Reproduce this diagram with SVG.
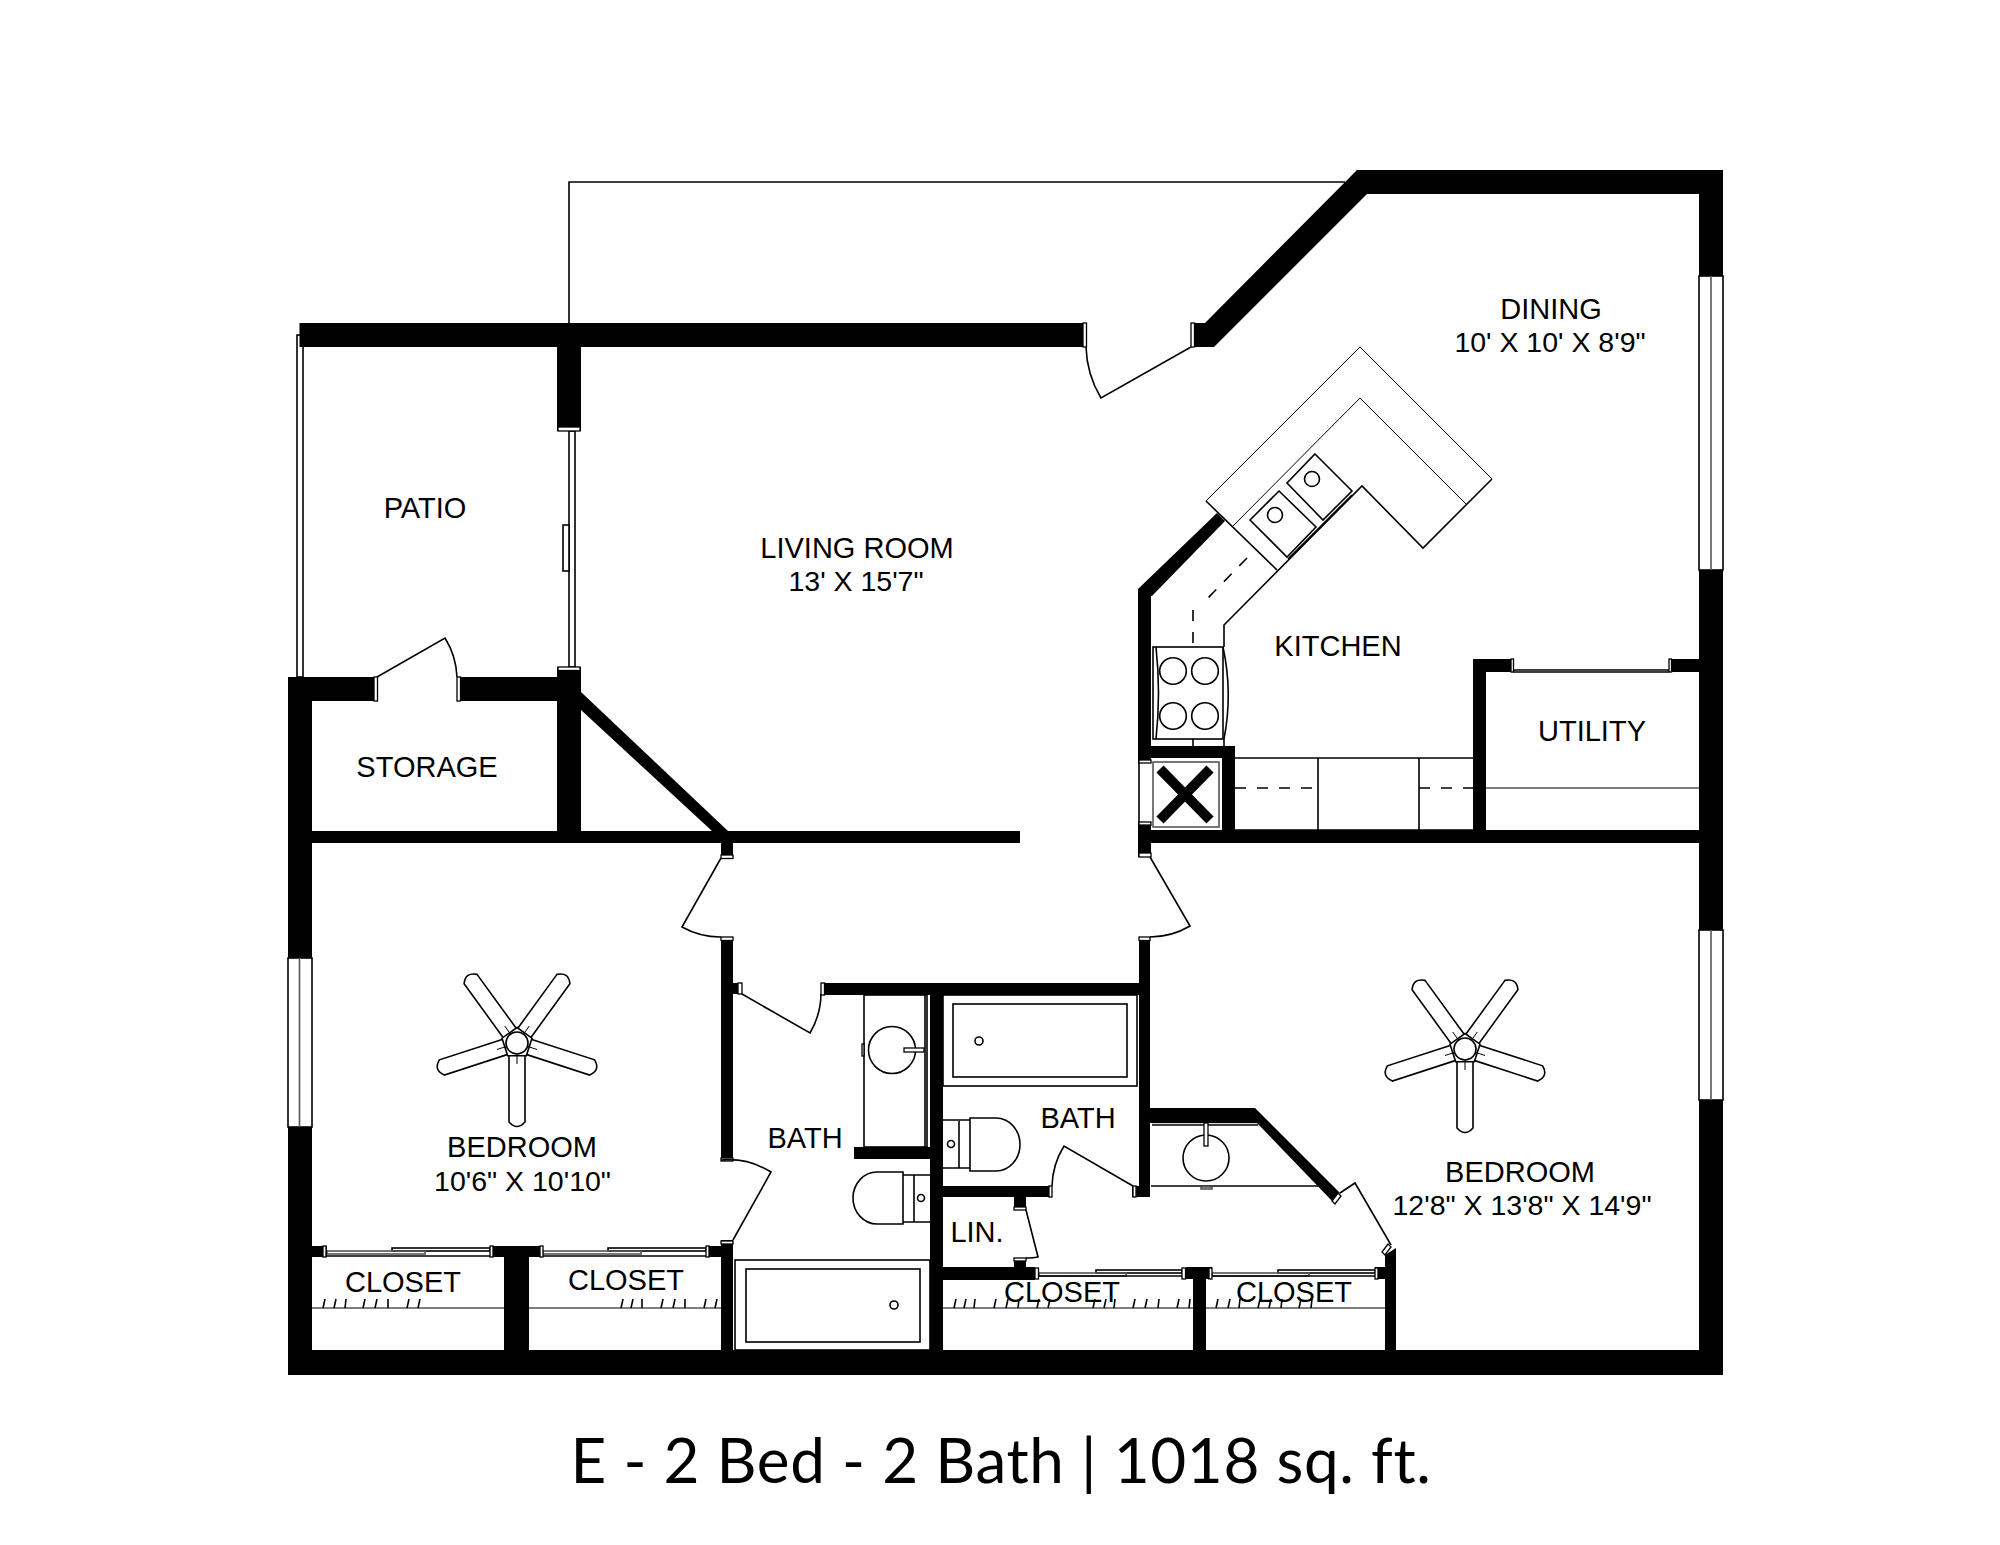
<svg xmlns="http://www.w3.org/2000/svg" width="2000" height="1545" viewBox="0 0 2000 1545">
<style>
.w{fill:#000}
.l{fill:none;stroke:#000;stroke-width:1.6}
.t{fill:none;stroke:#000;stroke-width:1}
.g{fill:none;stroke:#555;stroke-width:1.6}
.j{fill:#fff;stroke:#000;stroke-width:1.3}
.f{fill:#fff;stroke:#000;stroke-width:1.6}
.d{fill:none;stroke:#000;stroke-width:1.6;stroke-dasharray:11 11}
.x{fill:none;stroke:#000;stroke-width:10}
text{font-family:"Liberation Sans",Arial,sans-serif;font-size:29px;fill:#000;text-anchor:middle}
text.dim{font-size:28.5px}
text.cap{font-family:"Lato",sans-serif;font-size:62px;letter-spacing:.62px}
</style>
<defs>
<path id="blade" class="l" d="M-8,13V79Q-4,83.500 0,83.500Q4,83.500 8,79V13"/>
<g id="fan">
<use href="#blade"/><use href="#blade" transform="rotate(72)"/><use href="#blade" transform="rotate(144)"/><use href="#blade" transform="rotate(216)"/><use href="#blade" transform="rotate(288)"/>
<polygon class="f" points="0,-15.500 15,-4.800 9.300,12.800 -9.300,12.800 -15,-4.800"/>
<path class="t" d="M0,11V21M-10.500,3.400L-20,6.500M-6.500,-8.900L-12.300,-17M6.500,-8.900L12.300,-17M10.500,3.400L20,6.500"/>
<circle class="f" r="11" stroke-width="1.200"/>
</g>
</defs>
<rect width="2000" height="1545" fill="#fff"/>

<g id="fixtures">
<path class="l" d="M569,323V182H1345"/>
<rect class="f" x="297" y="335" width="6" height="342"/>
<rect class="f" x="569" y="431" width="6" height="236"/>
<rect class="f" x="563" y="525" width="6" height="46"/>
<rect class="f" x="1699" y="276" width="24" height="294"/><path class="g" d="M1711,276V570"/>
<rect class="f" x="1699" y="930" width="24" height="170"/><path class="g" d="M1711,930V1100"/>
<rect class="f" x="288" y="958" width="24" height="169"/><path class="g" d="M299.500,958V1127"/>

<path class="t" d="M1206,501L1360,347L1492,479"/>
<path class="t" d="M1233,526L1360,398L1466,504"/>
<path class="l" d="M1492,479L1423,548L1362,486L1224,625V647M1206,501L1277,570M1288,559L1352,495"/>
<polygon class="l" points="1279,491 1316,527 1287,557 1250,520"/>
<polygon class="l" points="1315,454 1352,491 1323,520 1287,483"/>
<circle class="l" cx="1275" cy="515" r="7.500"/><circle class="l" cx="1312" cy="479" r="7.500"/>
<path class="d" d="M1247,558L1205,601M1193,610V647"/>
<path class="l" d="M1193,739V746M1224,739V746"/>

<rect class="l" x="1153" y="647" width="70" height="92" stroke-width="2.500"/>
<path class="l" d="M1156,647Q1161,693 1156,739"/>
<path class="l" d="M1223,647Q1233,693 1224,739"/>
<circle class="l" cx="1173" cy="671" r="13.300"/><circle class="l" cx="1205" cy="671" r="13.300"/><circle class="l" cx="1173" cy="716" r="13.300"/><circle class="l" cx="1205" cy="716" r="13.300"/>
<rect class="g" x="1153" y="762" width="66" height="65"/>
<path class="x" d="M1160,769L1210,820M1210,769L1160,820"/>
<path class="l" d="M1139,762V823"/>

<path class="l" d="M1235,758H1473M1235,830H1473M1318,758V830M1419,758V830"/>
<path class="d" d="M1235,788H1318M1419,788H1473"/>
<path class="g" d="M1486,788H1699"/>
<path class="l" d="M1513,670H1669M1513,672H1669"/>

<rect class="l" x="864" y="995" width="63" height="152"/>
<path class="l" d="M925,995V1147"/>
<circle class="l" cx="892" cy="1050" r="23.500"/>
<rect class="j" x="904" y="1048" width="20" height="4"/>
<rect class="j" x="862" y="1044" width="2" height="12"/>
<rect class="l" x="943" y="995" width="194" height="91"/>
<rect class="l" x="953" y="1004" width="174" height="73" stroke-width="2"/>
<circle class="l" cx="979" cy="1041" r="4"/>
<path class="l" d="M970,1120H943M943,1168H970M959,1121V1168"/>
<path class="l" d="M970,1118H996A24,26.500 0 0 1 996,1171H970Z"/>
<circle class="l" cx="951" cy="1144" r="3.500"/>
<path class="l" d="M930,1175H903M930,1222H903M914,1175V1222"/>
<path class="l" d="M903,1172H877A24,26 0 0 0 877,1224H903Z"/>
<circle class="l" cx="921" cy="1198" r="3.500"/>
<rect class="l" x="735" y="1260" width="195" height="90"/>
<rect class="l" x="746" y="1269" width="174" height="73" stroke-width="2"/>
<circle class="l" cx="894" cy="1305" r="4"/>
<path class="l" d="M1152,1125H1258"/><path class="g" d="M1152,1122.500H1258"/>
<path class="l" d="M1151,1186H1318"/>
<circle class="l" cx="1206" cy="1158" r="23"/>
<rect class="j" x="1204" y="1123" width="4" height="23"/>
<rect class="g" x="1201" y="1187" width="11" height="2"/>

<path class="g" d="M312,1308H504M529,1308H721M943,1308H1193M1206,1308H1385"/>
<path class="l" stroke-width="1.200" d="M323,1308l2,-9M334,1308l2,-9M345,1308l1,-9M363,1308l2,-9M375,1308l2,-9M388,1308l0,-9M407,1308l2,-9M418,1308l2,-9M621,1308l2,-9M631,1308l2,-9M642,1308l0,-9M661,1308l2,-9M673,1308l2,-9M685,1308l0,-9M704,1308l2,-9M715,1308l2,-9M954,1308l2,-9M964,1308l2,-9M974,1308l1,-9M994,1308l2,-9M1006,1308l2,-9M1018,1308l1,-9M1037,1308l2,-9M1048,1308l2,-9M1093,1308l2,-9M1104,1308l2,-9M1114,1308l1,-9M1133,1308l2,-9M1145,1308l2,-9M1158,1308l1,-9M1177,1308l2,-9M1189,1308l1,-9M1216,1308l2,-9M1228,1308l2,-9M1239,1308l1,-9M1258,1308l2,-9M1269,1308l2,-9M1281,1308l1,-9M1299,1308l2,-9M1311,1308l1,-9"/>

<rect class="l" x="392" y="1248" width="98" height="3"/><rect class="g" x="327" y="1251" width="98" height="3"/><path class="l" d="M327,1256H490"/>
<rect class="l" x="608" y="1248" width="98" height="3"/><rect class="g" x="543" y="1251" width="98" height="3"/><path class="l" d="M543,1256H706"/>
<rect class="l" x="1096" y="1270" width="86" height="3"/><rect class="g" x="1039" y="1273" width="87" height="3"/><path class="l" d="M1039,1276H1182"/>
<rect class="l" x="1278" y="1270" width="97" height="3"/><rect class="g" x="1212" y="1273" width="97" height="3"/><path class="l" d="M1212,1276H1375"/>
</g>

<g id="walls">
<rect class="w" x="299.500" y="323" width="785" height="24"/>
<rect class="w" x="557" y="347" width="24" height="84"/>
<polygon class="w" points="1191,323 1205,323 1357,170 1723,170 1723,276 1699,276 1699,194 1367,194 1214,347 1191,347"/>
<rect class="w" x="1699" y="570" width="24" height="360"/>
<rect class="w" x="1699" y="1100" width="24" height="275"/>
<rect class="w" x="288" y="1350" width="1435" height="25"/>
<rect class="w" x="288" y="677" width="24" height="281"/>
<rect class="w" x="288" y="1127" width="24" height="223"/>
<rect class="w" x="288" y="677" width="89" height="24"/>
<rect class="w" x="457" y="677" width="100" height="24"/>
<rect class="w" x="557" y="667" width="24" height="176"/>
<rect class="w" x="312" y="831" width="708" height="12"/>
<polygon class="w" points="581,692 728,831 712,831 581,710"/>
<rect class="w" x="721" y="843" width="12" height="15"/>
<rect class="w" x="721" y="937" width="12" height="224"/>
<rect class="w" x="733" y="983" width="9" height="11"/>
<rect class="w" x="821" y="983" width="329" height="12"/>
<rect class="w" x="1139" y="937" width="11" height="260"/>
<rect class="w" x="930" y="995" width="13" height="355"/>
<rect class="w" x="854" y="1147" width="76" height="12"/>
<rect class="w" x="943" y="1186" width="109" height="11"/>
<rect class="w" x="1132" y="1186" width="7" height="11"/>
<rect class="w" x="1014" y="1197" width="12" height="13"/>
<rect class="w" x="1014" y="1258" width="12" height="9"/>
<rect class="w" x="943" y="1267" width="92" height="13"/>
<polygon class="w" points="1150,1108 1255,1108 1340,1193 1333,1202 1257,1123 1150,1123"/>
<polygon class="w" points="1385,1255 1396,1248 1396,1350 1385,1350"/>
<rect class="w" x="1375" y="1267" width="10" height="12"/>
<rect class="w" x="1186" y="1267" width="26" height="12"/>
<rect class="w" x="1193" y="1279" width="13" height="71"/>
<rect class="w" x="312" y="1246" width="15" height="11"/>
<rect class="w" x="490" y="1246" width="53" height="11"/>
<rect class="w" x="504" y="1257" width="25" height="93"/>
<rect class="w" x="706" y="1246" width="27" height="11"/>
<rect class="w" x="721" y="1240" width="12" height="110"/>
<polygon class="w" points="1138,589 1217,513 1225,521 1152,596 1151,596 1151,762 1138,762"/>
<rect class="w" x="1138" y="746" width="97" height="12"/>
<rect class="w" x="1222" y="746" width="13" height="90"/>
<rect class="w" x="1138" y="823" width="13" height="34"/>
<rect class="w" x="1138" y="830" width="561" height="13"/>
<rect class="w" x="1473" y="659" width="13" height="171"/>
<rect class="w" x="1473" y="659" width="38" height="13"/>
<rect class="w" x="1669" y="659" width="30" height="13"/>
</g>

<g id="door-jambs">
<rect class="j" x="558" y="427" width="22" height="4"/>
<rect class="j" x="558" y="667" width="22" height="3.500"/>
<rect class="j" x="1083" y="323" width="3.500" height="24"/>
<rect class="j" x="1191" y="323" width="3.500" height="24"/>
<rect class="j" x="374" y="677" width="3.500" height="24"/>
<rect class="j" x="457" y="677" width="3.500" height="24"/>
<rect class="j" x="721" y="855" width="12" height="3.500"/>
<rect class="j" x="721" y="937" width="12" height="3.500"/>
<rect class="j" x="1139" y="853" width="12" height="4"/>
<rect class="j" x="1139" y="937" width="11" height="3.500"/>
<rect class="j" x="738" y="983" width="4" height="11"/>
<rect class="j" x="821" y="983" width="3.500" height="12"/>
<rect class="j" x="721" y="1158" width="12" height="3"/>
<rect class="j" x="721" y="1241" width="12" height="3"/>
<rect class="j" x="1049" y="1186" width="3" height="11"/>
<rect class="j" x="1133" y="1186" width="3" height="11"/>
<rect class="j" x="1014" y="1207" width="12" height="3"/>
<rect class="j" x="1014" y="1258" width="12" height="3"/>
<rect class="j" x="1139" y="760" width="12" height="3"/>
<rect class="j" x="1139" y="822" width="12" height="3"/>
<rect class="j" x="1511" y="659" width="2.500" height="13"/>
<rect class="j" x="1669" y="659" width="2.500" height="13"/>
<rect class="j" x="323" y="1246" width="3" height="11"/><rect class="j" x="490" y="1246" width="3" height="11"/>
<rect class="j" x="540" y="1246" width="3" height="11"/><rect class="j" x="706" y="1246" width="3" height="11"/>
<rect class="j" x="1035" y="1268" width="3.500" height="11"/><rect class="j" x="1182" y="1268" width="3.500" height="11"/>
<rect class="j" x="1209" y="1268" width="3" height="11"/><rect class="j" x="1375" y="1268" width="3" height="11"/>
<polygon class="j" points="1332,1201 1335,1204 1341,1196 1338,1193"/>
<polygon class="j" points="1382,1252 1385,1255 1391,1247 1388,1244"/>
</g>

<g id="doors">
<path class="l" d="M1086,347A105,105 0 0 0 1101,398L1191,347"/>
<path class="l" d="M377,677L445,638A80,80 0 0 1 457,677"/>
<path class="l" d="M721,858L682,927A79,79 0 0 0 721,937"/>
<path class="l" d="M1150,857L1190,926A79,79 0 0 1 1150,937"/>
<path class="l" d="M742,994L810,1033A79,79 0 0 0 821,994"/>
<path class="l" d="M733,1240L771,1172A80,80 0 0 0 721,1160"/>
<path class="l" d="M1133,1186L1064,1146A80,80 0 0 0 1052,1186"/>
<path class="l" d="M1026,1210L1038,1257A48,48 0 0 1 1026,1258"/>
<path class="l" d="M1340,1193L1355,1183L1391,1245"/>
</g>

<g id="fans">
<use href="#fan" x="517" y="1043"/>
<use href="#fan" x="1465" y="1049"/>
</g>

<g id="labels">
<text x="425" y="518">PATIO</text>
<text x="857" y="558">LIVING ROOM</text>
<text class="dim" x="856" y="591">13' X 15'7"</text>
<text x="1551" y="319">DINING</text>
<text class="dim" x="1550" y="352">10' X 10' X 8'9"</text>
<text x="1338" y="656">KITCHEN</text>
<text x="1592" y="741">UTILITY</text>
<text x="427" y="777">STORAGE</text>
<text x="805" y="1148">BATH</text>
<text x="1078" y="1128">BATH</text>
<text x="522" y="1157">BEDROOM</text>
<text class="dim" x="522.500" y="1191">10'6" X 10'10"</text>
<text x="1520" y="1182">BEDROOM</text>
<text class="dim" x="1522" y="1215">12'8" X 13'8" X 14'9"</text>
<text x="977" y="1242">LIN.</text>
<text x="403" y="1292">CLOSET</text>
<text x="626" y="1290">CLOSET</text>
<text x="1062" y="1302">CLOSET</text>
<text x="1294" y="1302">CLOSET</text>
<text class="cap" x="1001" y="1483">E - 2 Bed - 2 Bath | 1018 sq. ft.</text>
</g>
</svg>
